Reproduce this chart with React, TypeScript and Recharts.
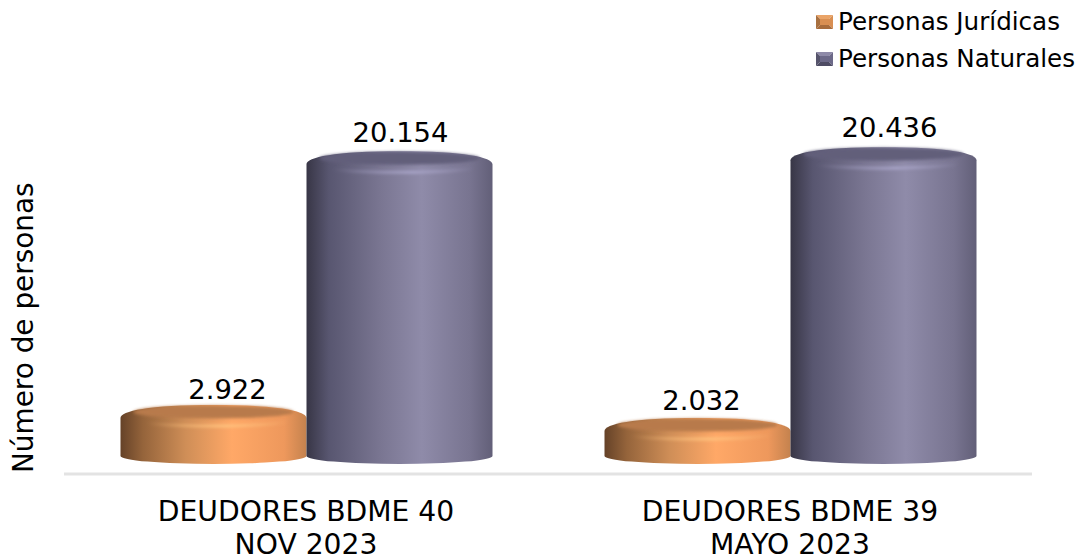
import { Bar, BarChart, LabelList, Legend, XAxis, YAxis } from "recharts";

const CATEGORIES = ["DEUDORES BDME 40", "DEUDORES BDME 39"];
const PERIODS = ["NOV 2023", "MAYO 2023"];
const JURIDICAS = [2922, 2032];
const NATURALES = [20154, 20436];

const FONT = "'DejaVu Sans', Verdana, sans-serif";

const chartData = CATEGORIES.map((name, i) => ({
  name,
  period: PERIODS[i],
  juridicas: JURIDICAS[i],
  naturales: NATURALES[i],
}));

const formatValue = (value: number) => value.toString().replace(/\B(?=(\d{3})+$)/g, ".");

// the value labels were dragged by hand in the original chart
const JURIDICAS_NUDGE = [
  { dx: 14, dy: -14 },
  { dx: 4, dy: -16 },
];
const NATURALES_NUDGE = [
  { dx: 1, dy: -17 },
  { dx: 6, dy: -18 },
];

function cylinder(gradient: string, faceColor: string, shine: string) {
  return function CylinderShape(props: any) {
    const { x, y, width, height } = props;
    const base = y + height;
    const rx = width / 2;
    const cx = x + rx;
    const right = x + width;
    const top = y - 8;
    const body = `M${x},${base} A${rx},8 0 0 0 ${right},${base} L${right},${y + 5} C${right},${y - 2} ${cx + rx * 0.7},${top} ${cx},${top} C${cx - rx * 0.7},${top} ${x},${y - 2} ${x},${y + 5} Z`;
    return (
      <g>
        <path d={body} fill={`url(#${gradient})`} />
        <ellipse cx={cx} cy={y - 1} rx={rx - 13} ry={6.5} fill={faceColor} filter="url(#soft1)" />
        <path
          d={`M${x + 10},${y + 6} A${rx - 10},7 0 0 0 ${right - 10},${y + 6}`}
          fill="none"
          stroke={shine}
          strokeWidth={3}
          filter="url(#soft2)"
        />
      </g>
    );
  };
}

function valueLabel(nudges: { dx: number; dy: number }[]) {
  return function ValueLabel(props: any) {
    const { x, y, width, value, index } = props;
    return (
      <text
        x={x + width / 2 + nudges[index].dx}
        y={y + nudges[index].dy}
        textAnchor="middle"
        fontFamily={FONT}
        fontSize={27.4}
        fill="#000"
      >
        {formatValue(value)}
      </text>
    );
  };
}

function LegendContent() {
  const items = [
    { label: "Personas Jurídicas", a: "#eaa468", b: "#a86c3c", c: "#d98f52", d: "#a87040" },
    { label: "Personas Naturales", a: "#8e8aa8", b: "#4e4c64", c: "#6c6988", d: "#56546c" },
  ];
  return (
    <div style={{ fontFamily: FONT, fontSize: 24.6, color: "#000" }}>
      {items.map((item) => (
        <div key={item.label} style={{ display: "flex", alignItems: "center", height: 37, whiteSpace: "nowrap" }}>
          <svg width={17} height={14} style={{ marginRight: 5, filter: "blur(0.5px)" }}>
            <polygon points="0,0 17,0 13,4 4,4" fill={item.a} />
            <polygon points="17,0 17,14 13,10 13,4" fill={item.c} />
            <polygon points="0,14 17,14 13,10 4,10" fill={item.b} />
            <polygon points="0,0 0,14 4,10 4,4" fill={item.d} />
            <rect x={4} y={4} width={9} height={6} fill={item.c} />
          </svg>
          {item.label}
        </div>
      ))}
    </div>
  );
}

function CategoryTick(props: any) {
  const { x, y, index } = props;
  return (
    <text x={x} y={y} textAnchor="middle" fontFamily={FONT} fontSize={28.2} fill="#000">
      <tspan x={x} dy={39}>
        {CATEGORIES[index]}
      </tspan>
      <tspan x={x} dy={33}>
        {PERIODS[index]}
      </tspan>
    </text>
  );
}

export default function App() {
  return (
    <div style={{ position: "fixed", left: 0, top: 0, width: 1077, height: 558, background: "#fff" }}>
      <BarChart
        width={1077}
        height={558}
        data={chartData}
        margin={{ top: 26, right: 45, bottom: 54, left: 0 }}
        barCategoryGap={56.5}
        barGap={0}
      >
        <defs>
          <linearGradient id="orangeSide" x1="0" y1="0" x2="1" y2="0">
            <stop offset="0" stopColor="#654228" />
            <stop offset="0.12" stopColor="#95643b" />
            <stop offset="0.35" stopColor="#cf8e57" />
            <stop offset="0.6" stopColor="#ffa867" />
            <stop offset="0.88" stopColor="#ee985c" />
            <stop offset="1" stopColor="#c4824e" />
          </linearGradient>
          <linearGradient id="purpleSide" x1="0" y1="0" x2="1" y2="0">
            <stop offset="0" stopColor="#383646" />
            <stop offset="0.12" stopColor="#585670" />
            <stop offset="0.4" stopColor="#7a7692" />
            <stop offset="0.62" stopColor="#8f8ba9" />
            <stop offset="0.88" stopColor="#787490" />
            <stop offset="1" stopColor="#625f78" />
          </linearGradient>
          <linearGradient id="orangeShine" x1="0" y1="0" x2="1" y2="0">
            <stop offset="0.1" stopColor="#ffc47f" stopOpacity={0} />
            <stop offset="0.58" stopColor="#ffc47f" stopOpacity={0.95} />
            <stop offset="0.95" stopColor="#ffc47f" stopOpacity={0} />
          </linearGradient>
          <linearGradient id="purpleShine" x1="0" y1="0" x2="1" y2="0">
            <stop offset="0.1" stopColor="#aaa6ca" stopOpacity={0} />
            <stop offset="0.58" stopColor="#aaa6ca" stopOpacity={0.95} />
            <stop offset="0.95" stopColor="#aaa6ca" stopOpacity={0} />
          </linearGradient>
          <filter id="soft1" x="-5%" y="-30%" width="110%" height="160%">
            <feGaussianBlur stdDeviation="1.5" />
          </filter>
          <filter id="soft2" x="-5%" y="-100%" width="110%" height="300%">
            <feGaussianBlur stdDeviation="1.5" />
          </filter>
        </defs>
        <XAxis
          dataKey="name"
          tick={<CategoryTick />}
          tickLine={false}
          axisLine={{ stroke: "#e3e3e3", strokeWidth: 3 }}
          interval={0}
        />
        <YAxis
          domain={[-1226, 24183]}
          width={64}
          tick={false}
          axisLine={false}
          tickLine={false}
          label={{
            value: "Número de personas",
            angle: -90,
            position: "insideLeft",
            dx: 18,
            dy: 186,
            style: { fontFamily: FONT, fontSize: 27.9, fill: "#000" },
          }}
        />
        <Legend
          verticalAlign="top"
          align="right"
          content={<LegendContent />}
          wrapperStyle={{ position: "absolute", left: 816, top: 3, width: 261 }}
        />
        <Bar
          dataKey="juridicas"
          name="Personas Jurídicas"
          isAnimationActive={false}
          shape={cylinder("orangeSide", "#b87a4b", "url(#orangeShine)")}
        >
          <LabelList dataKey="juridicas" content={valueLabel(JURIDICAS_NUDGE)} />
        </Bar>
        <Bar
          dataKey="naturales"
          name="Personas Naturales"
          isAnimationActive={false}
          shape={cylinder("purpleSide", "#625f7a", "url(#purpleShine)")}
        >
          <LabelList dataKey="naturales" content={valueLabel(NATURALES_NUDGE)} />
        </Bar>
      </BarChart>
    </div>
  );
}
